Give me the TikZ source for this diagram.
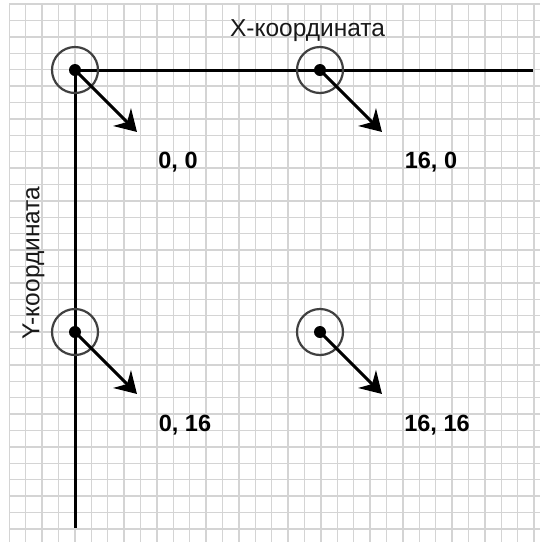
\documentclass[tikz,border=0pt]{standalone}
\usepackage{fontspec}
\setmainfont{Liberation Sans}
\usetikzlibrary{arrows.meta,calc}
\begin{document}
\begin{tikzpicture}[x=1pt,y=-1pt,
  gridline/.style={draw=black!17, line width=1.4pt},
  axis/.style={line width=3pt},
  ring/.style={circle, draw=black!75, line width=2.2pt, minimum size=46pt, inner sep=0pt},
  dot/.style={circle, fill=black, minimum size=12pt, inner sep=0pt},
  vec/.style={line width=3pt, -{Stealth[length=21pt,width=25pt,inset=7pt]}},
  coordlabel/.style={font=\fontsize{23.5}{23.5}\selectfont\bfseries, inner sep=0pt, anchor=base},
  axislabel/.style={font=\fontsize{24.5}{24.5}\selectfont, text=black!90, inner sep=0pt, anchor=base}]
\useasboundingbox (0,0) rectangle (540,542);
\fill[white] (0,0) rectangle (540,542);
\foreach \i in {0,...,32} {
  \draw[gridline] (9.2+16.4*\i,4) -- (9.2+16.4*\i,542);
  \draw[gridline] (9.2,4+16.4*\i) -- (540,4+16.4*\i);
}
% points
\coordinate (p1) at (75,70);
\coordinate (p2) at (320,70);
\coordinate (p3) at (75,332);
\coordinate (p4) at (320,332);
\coordinate (xend) at (533,70);
\coordinate (yend) at (75,528);
\draw[axis] (p1) -- (xend);
\draw[axis] (p1) -- (yend);
\foreach \k in {1,2,3,4} {
  \node[ring] (r\k) at (p\k) {};
  \node[dot] (d\k) at (p\k) {};
  \coordinate (t\k) at ($(p\k)+(62,62)$);
}
\foreach \k in {1,2,3,4} {
  \draw[vec] (d\k.center) -- (t\k);
}
\node[coordlabel] (l1) at (178,168.3) {0, 0};
\node[coordlabel] (l2) at (431,168.3) {16, 0};
\node[coordlabel] (l3) at (185,431) {0, 16};
\node[coordlabel] (l4) at (437,431) {16, 16};
\node[axislabel] (xl) at (307.5,36) {X-координата};
\node[axislabel, rotate=90] (yl) at (39.3,263) {Y-координата};
\end{tikzpicture}
\end{document}
